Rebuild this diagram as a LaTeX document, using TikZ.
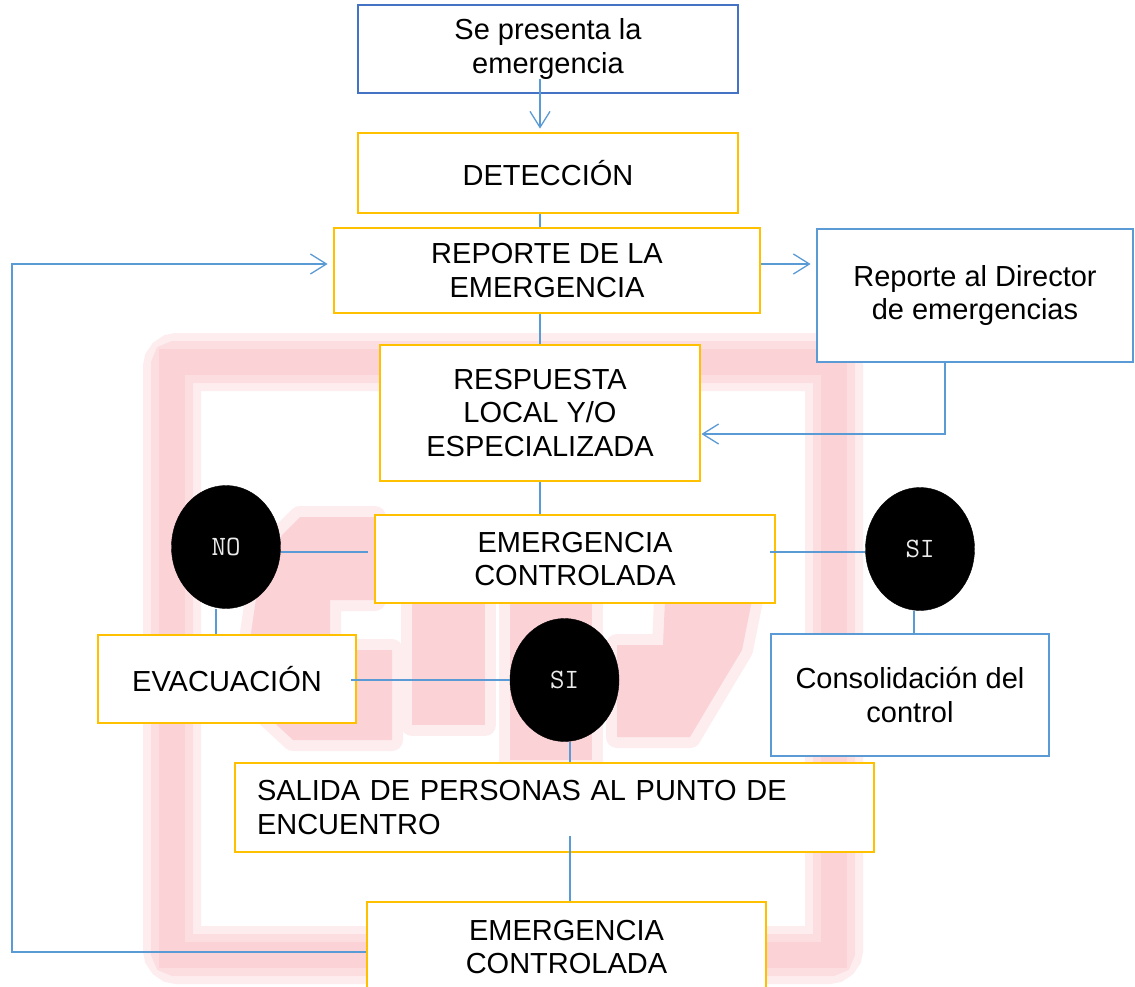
\documentclass[tikz,border=0pt]{standalone}
\usepackage{fontspec}
\setmainfont{Liberation Sans}
\usetikzlibrary{arrows.meta,shapes.geometric,calc}
\definecolor{gold}{RGB}{255,192,0}
\definecolor{bluedark}{RGB}{68,114,196}
\definecolor{bluelight}{RGB}{91,155,213}
\definecolor{wmcore}{RGB}{251,210,214}
\definecolor{wmmid}{RGB}{252,222,225}
\definecolor{wmhalo}{RGB}{254,237,239}
\begin{document}
\begin{tikzpicture}[x=1pt,y=-1pt,
  every node/.style={font=\fontsize{29}{33.5}\selectfont, align=center, inner sep=0pt},
  goldbox/.style={rectangle, draw=gold, line width=2.8pt, fill=white},
  bluebox/.style={rectangle, draw=bluelight, line width=2.8pt, fill=white},
  topbox/.style={rectangle, draw=bluedark, line width=2.8pt, fill=white},
  decision/.style={ellipse, fill=black, draw=black, text=white!92!black,
    font=\ttfamily\fontsize{28}{28}\selectfont, minimum width=109pt, minimum height=123pt},
  conn/.style={draw=bluelight, line width=1.3pt},
  arr/.style={conn, -{Straight Barb[length=16pt,width=20pt]}},
  wmh/.style={draw=wmhalo, fill=wmhalo, line width=22pt, line join=round},
  wmc/.style={fill=wmcore},
]
\useasboundingbox (0,0) rectangle (1135,987);
\clip (0,0) rectangle (1135,987);
\fill[white] (0,0) rectangle (1135,987);

% ---------- watermark ----------
\draw[wmhalo, line width=58pt, rounded corners=6pt] (172,362) rectangle (834,955);
\draw[wmmid, line width=42pt, rounded corners=4pt] (172,362) rectangle (834,955);
\draw[wmcore, line width=26pt] (172,362) rectangle (834,955);
\path[wmh] (300,517) -- (375,517) -- (375,600) -- (330,600) -- (330,650) -- (392,650) -- (392,740) -- (293,740) -- (250,700) -- (250,640) -- (258,585) -- (282,535) -- cycle;
\fill[wmc] (300,517) -- (375,517) -- (375,600) -- (330,600) -- (330,650) -- (392,650) -- (392,740) -- (293,740) -- (250,700) -- (250,640) -- (258,585) -- (282,535) -- cycle;
\path[wmh] (412,600) rectangle (485,725);
\fill[wmc] (412,600) rectangle (485,725);
\path[wmh] (510,600) rectangle (592,760);
\fill[wmc] (510,600) rectangle (592,760);
\path[wmh] (665,600) -- (752,600) -- (742,650) -- (712,700) -- (690,737) -- (617,737) -- (617,645) -- (663,645) -- cycle;
\fill[wmc] (665,600) -- (752,600) -- (742,650) -- (712,700) -- (690,737) -- (617,737) -- (617,645) -- (663,645) -- cycle;

% ---------- helper coordinates ----------
\coordinate (colx) at (540,0);
\coordinate (rowB) at (0,264);
\coordinate (rowA) at (0,552);
\coordinate (colR) at (914,0);
\coordinate (colL) at (216,0);
\coordinate (colM) at (570,0);
\coordinate (fb) at (12,952);
\coordinate (dcorner) at (945,434);

% ---------- nodes ----------
\node[topbox, minimum width=380pt, minimum height=88pt] (b1) at (548,49) {Se presenta la\\emergencia};
\node[goldbox, minimum width=380pt, minimum height=80pt] (b2) at (548,173) {DETECCIÓN};
\node[goldbox, minimum width=426pt, minimum height=85pt] (b3) at (547,270.5) {REPORTE DE LA\\EMERGENCIA};
\node[bluebox, minimum width=316pt, minimum height=133pt] (dir) at (975,295.5) {Reporte al Director\\de emergencias};
\node[goldbox, minimum width=320pt, minimum height=136pt] (b4) at (540,413) {RESPUESTA\\LOCAL Y/O\\ESPECIALIZADA};
\node[goldbox, minimum width=400pt, minimum height=88pt] (b5) at (575,559) {EMERGENCIA\\CONTROLADA};
\node[decision] (no) at (226,547) {NO};
\node[decision] (siR) at (920,549) {SI};
\node[bluebox, minimum width=278pt, minimum height=122pt] (cons) at (910,695) {Consolidación del\\control};
\node[goldbox, minimum width=258pt, minimum height=88pt] (evac) at (227,679) {EVACUACIÓN};
\node[decision] (siM) at (564.5,680) {SI};
\node[goldbox, minimum width=639pt, minimum height=89pt, text width=595pt, align=left, inner xsep=22pt] (sal) at (554.5,807.5) {SALIDA DE PERSONAS AL PUNTO DE\\ENCUENTRO};
\node[goldbox, minimum width=399pt, minimum height=90pt] (last) at (566.5,947) {EMERGENCIA\\CONTROLADA};

% ---------- connectors ----------
\draw[arr, shorten >=3pt] ([yshift=15pt]b1.south -| colx) -- (b2.north -| colx);
\draw[conn] (b2.south -| colx) -- (b3.north -| colx);
\draw[conn] (b3.south -| colx) -- (b4.north);
\draw[arr, shorten >=5pt] (b3.east |- rowB) -- (dir.west |- rowB);
\draw[arr] (dir.south -| dcorner) -- (dcorner) -- (b4.east |- dcorner);
\draw[conn] (b4.south) -- (b5.north -| b4.south);
\draw[conn] (no.east |- rowA) -- ([xshift=-6pt]b5.west |- rowA);
\draw[conn] ([xshift=-6pt]b5.east |- rowA) -- (siR.west |- rowA);
\draw[conn] (siR.south -| colR) -- (cons.north -| colR);
\draw[conn] (no.south -| colL) -- (evac.north -| colL);
\draw[conn] ([xshift=-6pt]evac.east |- siM.west) -- (siM.west);
\draw[conn] (siM.south -| colM) -- (sal.north -| colM);
\draw[conn] ([yshift=17pt]sal.south -| colM) -- (last.north -| colM);
\draw[arr, shorten >=5pt] (last.west |- fb) -- (fb) -- (fb |- rowB) -- (b3.west |- rowB);
\end{tikzpicture}
\end{document}
